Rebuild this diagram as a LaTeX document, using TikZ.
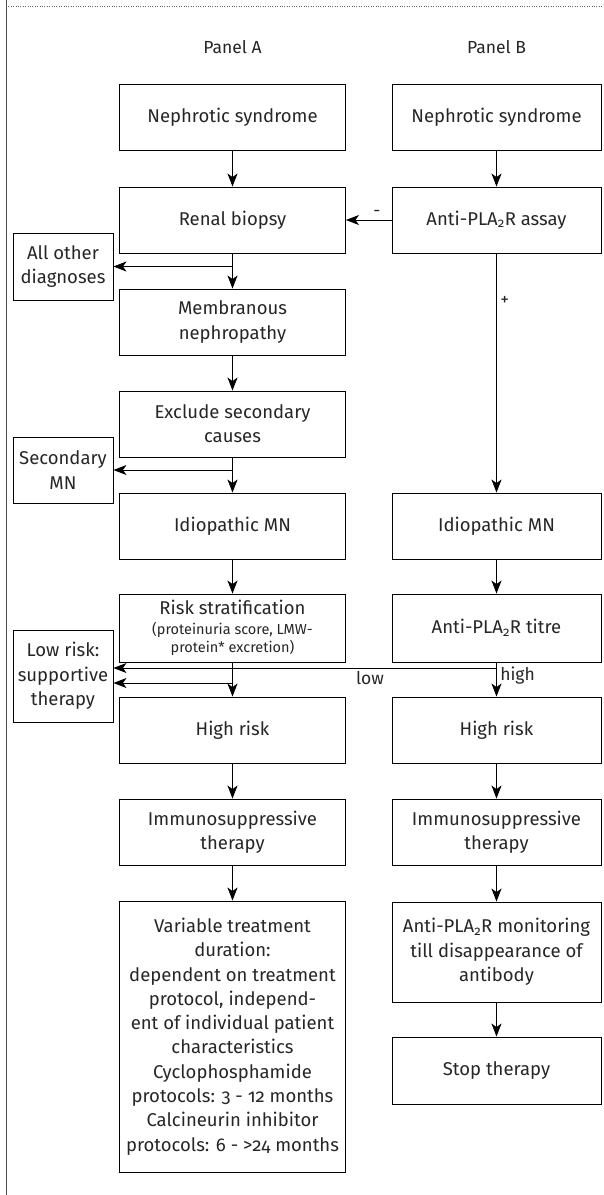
\documentclass[tikz,border=0pt]{standalone}
\usepackage{fontspec}
\setmainfont{Fira Sans}[Numbers=OldStyle]
\usetikzlibrary{arrows.meta}
\newcommand\smalltxt{\fontsize{14.5}{16}\selectfont}

\begin{document}
\begin{tikzpicture}[x=1pt,y=-1pt,
   every node/.style={font=\fontsize{18.5}{24.3}\selectfont,text=black!85},
   boxa/.style={draw,line width=0.9pt,minimum width=226pt,minimum height=66pt,
                align=center,inner sep=1pt},
   boxb/.style={boxa,minimum width=209pt},
   side/.style={boxa,minimum width=100pt},
   link/.style={line width=0.9pt,-{Stealth[length=13pt,width=10pt,inset=3.5pt]}},
   lbl/.style={font=\fontsize{17.5}{18}\selectfont},
   title/.style={font=\fontsize{17.5}{18}\selectfont}]

\useasboundingbox (0,0) rectangle (603,1195);
\draw[line width=0.8pt,black!70] (6,0) -- (6,1195);
\draw[dotted,black!60] (6,6) -- (603,6);

\node[title] (pa) at (232.5,47) {Panel A};
\node[title] (pb) at (496.5,47) {Panel B};

\node[boxa] (nsa) at (232.5,117.5) {Nephrotic syndrome};
\node[boxa] (rb) at (232.5,220) {Renal biopsy};
\node[boxa] (mn) at (232.5,322) {Membranous\\nephropathy};
\node[boxa] (exc) at (232.5,424) {Exclude secondary\\causes};
\node[boxa] (ida) at (232.5,526) {Idiopathic MN};
\node[boxa,minimum height=68pt] (risk) at (232.5,628)
   {Risk stratification\\[-5pt]{\smalltxt (proteinuria score, LMW-}\\[-6pt]{\smalltxt protein* excretion)}};
\node[boxa] (hra) at (232.5,730) {High risk};
\node[boxa] (ima) at (232.5,832) {Immunosuppressive\\therapy};
\node[boxa,minimum height=271pt] (dur) at (232.5,1036.5)
   {Variable treatment\\duration:\\dependent on treatment\\protocol, independ-\\ent of individual patient\\characteristics\\Cyclophosphamide\\protocols: 3 - 12 months\\Calcineurin inhibitor\\protocols: 6 - >24 months};

\node[boxb] (nsb) at (496.5,117.5) {Nephrotic syndrome};
\node[boxb] (assay) at (496.5,220) {Anti-PLA\textsubscript{2}R assay};
\node[boxb] (idb) at (496.5,526) {Idiopathic MN};
\node[boxb,minimum height=68pt] (titre) at (496.5,628) {Anti-PLA\textsubscript{2}R titre};
\node[boxb] (hrb) at (496.5,730) {High risk};
\node[boxb] (imb) at (496.5,832) {Immunosuppressive\\therapy};
\node[boxb,minimum height=100pt] (mon) at (496.5,952)
   {Anti-PLA\textsubscript{2}R monitoring\\till disappearance of\\antibody};
\node[boxb,minimum height=67pt] (stop) at (496.5,1070.5) {Stop therapy};

\node[side,minimum height=67pt] (other) at (63,266.5) {All other\\diagnoses};
\node[side,minimum height=66pt] (sec) at (63,470) {Secondary\\MN};
\node[side,minimum height=92pt] (low) at (63,676) {Low risk:\\supportive\\therapy};

\coordinate (lo1) at ([yshift=8pt]low.east);
\coordinate (lo2) at ([yshift=-7pt]low.east);

\draw[link] (nsa) -- (rb);
\draw[link] (rb) -- (mn);
\draw[link] (rb.south |- other) -- (other);
\draw[link] (mn) -- (exc);
\draw[link] (exc) -- (ida);
\draw[link] (exc.south |- sec) -- (sec);
\draw[link] (ida) -- (risk);
\draw[link] (risk) -- (hra);
\draw[link] (risk.south |- lo2) -- (lo2);
\draw[link] (hra) -- (ima);
\draw[link] (ima) -- (dur);

\draw[link] (nsb) -- (assay);
\draw[link] (assay) -- node[lbl,above,pos=0.32] {-} (rb);
\draw[link] (assay) -- node[lbl,right,pos=0.2] {+} (idb);
\draw[link] (idb) -- (titre);
\draw[link] (titre) -- node[lbl,right,pos=0.37] {high} (hrb);
\draw[link] (titre.south |- lo1) -- node[lbl,below,pos=0.33] {low} (lo1);
\draw[link] (hrb) -- (imb);
\draw[link] (imb) -- (mon);
\draw[link] (mon) -- (stop);

\end{tikzpicture}
\end{document}
